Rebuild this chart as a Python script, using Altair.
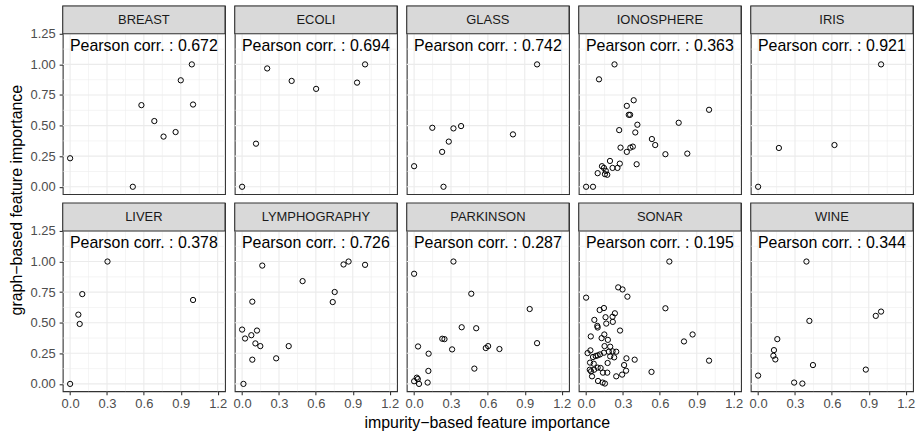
import altair as alt
import pandas as pd

# ---------------- data ----------------
datasets = ["BREAST", "ECOLI", "GLASS", "IONOSPHERE", "IRIS",
            "LIVER", "LYMPHOGRAPHY", "PARKINSON", "SONAR", "WINE"]
pearson = ["0.672", "0.694", "0.742", "0.363", "0.921",
           "0.378", "0.726", "0.287", "0.195", "0.344"]

breast_x = [0.0, 0.51, 0.58, 0.685, 0.76, 0.858, 0.90, 0.99, 1.0]
breast_y = [0.233, 0.0, 0.667, 0.537, 0.41, 0.447, 0.87, 1.0, 0.672]

ecoli_x = [0.0, 0.113, 0.204, 0.403, 0.602, 0.935, 1.0]
ecoli_y = [0.0, 0.352, 0.967, 0.865, 0.80, 0.851, 1.0]

glass_x = [0.0, 0.148, 0.228, 0.239, 0.282, 0.32, 0.382, 0.804, 1.0]
glass_y = [0.168, 0.482, 0.285, 0.0, 0.369, 0.477, 0.496, 0.428, 1.0]

iono_x = [0.0, 0.056, 0.105, 0.231, 0.094, 0.129, 0.145, 0.153, 0.172, 0.16,
          0.194, 0.215, 0.255, 0.274, 0.28, 0.269, 0.331, 0.36, 0.38, 0.411,
          0.40, 0.417, 0.347, 0.358, 0.331, 0.387, 0.535, 0.562, 0.645, 0.753,
          0.823, 1.0]
iono_y = [0.0, 0.0, 0.878, 1.0, 0.111, 0.168, 0.154, 0.103, 0.098, 0.13,
          0.211, 0.154, 0.154, 0.189, 0.32, 0.463, 0.285, 0.32, 0.328, 0.184,
          0.444, 0.507, 0.588, 0.588, 0.661, 0.707, 0.39, 0.341, 0.266, 0.523,
          0.271, 0.629]

iris_x = [0.0, 0.169, 0.621, 1.0]
iris_y = [0.0, 0.317, 0.341, 1.0]

liver_x = [0.0, 0.067, 0.078, 0.099, 0.304, 1.0]
liver_y = [0.0, 0.566, 0.49, 0.734, 1.0, 0.686]

lympho_x = [0.0, 0.011, 0.024, 0.075, 0.121, 0.108, 0.148, 0.083, 0.083, 0.164,
            0.277, 0.379, 0.492, 0.737, 0.753, 0.825, 0.866, 1.0]
lympho_y = [0.444, 0.0, 0.371, 0.398, 0.436, 0.331, 0.309, 0.672, 0.198, 0.967,
            0.209, 0.309, 0.84, 0.669, 0.751, 0.976, 1.0, 0.973]

parkinson_x = [0.0, 0.32, 0.465, 0.94, 0.387, 0.505, 0.229, 0.247, 0.032, 0.309,
               0.118, 0.583, 0.602, 0.694, 1.0, 0.49, 0.116, 0.022, 0.03, 0.0,
               0.04, 0.11]
parkinson_y = [0.9, 1.0, 0.737, 0.612, 0.463, 0.455, 0.369, 0.366, 0.306, 0.282,
               0.247, 0.293, 0.309, 0.285, 0.333, 0.125, 0.106, 0.051, 0.04, 0.022,
               0.0, 0.011]

sonar_x = [0.0, 0.677, 0.261, 0.296, 0.336, 0.645, 0.234, 0.215, 0.145, 0.11,
           0.067, 0.091, 0.094, 0.158, 0.164, 0.217, 0.276, 0.038, 0.126, 0.148,
           0.177, 0.15, 0.196, 0.866, 0.796, 0.012, 0.035, 0.056, 0.078, 0.094,
           0.113, 0.145, 0.185, 0.215, 0.245, 0.196, 0.228, 0.175, 0.032, 0.062,
           0.03, 0.04, 0.048, 0.065, 0.094, 0.118, 0.328, 0.395, 0.309, 0.325,
           0.293, 0.245, 0.137, 0.172, 0.097, 0.134, 0.153, 0.532, 1.0]
sonar_y = [0.705, 1.0, 0.789, 0.772, 0.713, 0.618, 0.577, 0.549, 0.62, 0.604,
           0.523, 0.474, 0.461, 0.545, 0.493, 0.507, 0.436, 0.388, 0.374, 0.404,
           0.36, 0.309, 0.304, 0.404, 0.347, 0.252, 0.274, 0.22, 0.228, 0.233,
           0.241, 0.255, 0.263, 0.266, 0.263, 0.225, 0.217, 0.171, 0.174, 0.165,
           0.116, 0.103, 0.062, 0.116, 0.133, 0.13, 0.209, 0.198, 0.154, 0.108,
           0.076, 0.062, 0.092, 0.092, 0.024, 0.011, 0.003, 0.098, 0.19]

wine_x = [0.0, 0.393, 0.293, 0.36, 0.446, 0.417, 0.876, 0.957, 1.0, 0.156,
          0.129, 0.124, 0.14]
wine_y = [0.068, 1.0, 0.011, 0.003, 0.154, 0.515, 0.117, 0.556, 0.591, 0.366,
          0.276, 0.23, 0.2]

series_x = [breast_x, ecoli_x, glass_x, iono_x, iris_x,
            liver_x, lympho_x, parkinson_x, sonar_x, wine_x]
series_y = [breast_y, ecoli_y, glass_y, iono_y, iris_y,
            liver_y, lympho_y, parkinson_y, sonar_y, wine_y]

x_ticks = [0.0, 0.3, 0.6, 0.9, 1.2]
x_minor = [0.15, 0.45, 0.75, 1.05]
y_ticks = [0.0, 0.25, 0.5, 0.75, 1.0, 1.25]
y_minor = [0.125, 0.375, 0.625, 0.875, 1.125]
annot_x = [0.6]
annot_y = [1.15]

# ---------------- layout ----------------
W = 163
STRIP = 28
PANEL_H = 161
H = STRIP + PANEL_H
X_LO, X_HI = -0.06, 1.26
Y_LO, Y_TOP = -0.06, 1.25
Y_HI = Y_TOP + STRIP * (Y_TOP - Y_LO) / PANEL_H

FONT = "Liberation Sans"
GRID = "#EBEBEB"
DARK = "#333333"

xscale = alt.Scale(domain=[X_LO, X_HI], nice=False, zero=False)
yscale = alt.Scale(domain=[Y_LO, Y_HI], nice=False, zero=False)


def x_axis(show):
    if not show:
        return None
    return alt.Axis(values=x_ticks, format=".1f", title=None, grid=False,
                    domain=False, labelFont=FONT, labelFontSize=13,
                    labelColor="#4D4D4D", tickColor=DARK, tickSize=3.6,
                    tickWidth=1.1, labelPadding=3, labelFlush=False,
                    labelOverlap=False)


def y_axis(show):
    if not show:
        return None
    return alt.Axis(values=y_ticks, format=".2f", title=None, grid=False,
                    domain=False, labelFont=FONT, labelFontSize=13,
                    labelColor="#4D4D4D", tickColor=DARK, tickSize=3.6,
                    tickWidth=1.1, labelPadding=4, labelOverlap=False)


def panel(i, show_x, show_y):
    name = datasets[i]
    xa = x_axis(show_x)
    ya = y_axis(show_y)
    pts = pd.DataFrame({"x": series_x[i], "y": series_y[i]})

    gy_major = alt.Chart(pd.DataFrame({"v": y_ticks})).mark_rule(
        color=GRID, strokeWidth=1.1).encode(
        y=alt.Y("v:Q", scale=yscale, axis=ya), x=alt.value(0), x2=alt.value(W))
    gy_minor = alt.Chart(pd.DataFrame({"v": y_minor})).mark_rule(
        color=GRID, strokeWidth=0.55).encode(
        y=alt.Y("v:Q", scale=yscale, axis=ya), x=alt.value(0), x2=alt.value(W))
    gx_major = alt.Chart(pd.DataFrame({"v": x_ticks})).mark_rule(
        color=GRID, strokeWidth=1.1).encode(
        x=alt.X("v:Q", scale=xscale, axis=xa), y=alt.value(STRIP), y2=alt.value(H))
    gx_minor = alt.Chart(pd.DataFrame({"v": x_minor})).mark_rule(
        color=GRID, strokeWidth=0.55).encode(
        x=alt.X("v:Q", scale=xscale, axis=xa), y=alt.value(STRIP), y2=alt.value(H))

    strip_df = pd.DataFrame({"label": [name]})
    strip_bg = alt.Chart(strip_df).mark_rect(
        fill="#D9D9D9", stroke=DARK, strokeWidth=1.1).encode(
        x=alt.value(0), x2=alt.value(W), y=alt.value(0), y2=alt.value(STRIP))
    strip_tx = alt.Chart(strip_df).mark_text(
        font=FONT, fontSize=13, color="#1A1A1A", baseline="middle",
        align="center").encode(
        x=alt.value(W / 2), y=alt.value(STRIP / 2 + 0.5), text="label:N")

    ann_df = pd.DataFrame({"tx": annot_x, "ty": annot_y,
                           "t": ["Pearson corr. : " + pearson[i]]})
    ann = alt.Chart(ann_df).mark_text(
        font=FONT, fontSize=16, color="black", baseline="middle",
        align="center").encode(
        x=alt.X("tx:Q", scale=xscale, axis=xa),
        y=alt.Y("ty:Q", scale=yscale, axis=ya), text="t:N")

    points = alt.Chart(pts).mark_point(
        shape="circle", filled=False, color="black", size=28,
        strokeWidth=1.0, opacity=1).encode(
        x=alt.X("x:Q", scale=xscale, axis=xa),
        y=alt.Y("y:Q", scale=yscale, axis=ya))

    return alt.layer(gy_minor, gx_minor, gy_major, gx_major, strip_bg,
                     strip_tx, ann, points).properties(width=W, height=H)


panels = [panel(i, i >= 5, i % 5 == 0) for i in range(10)]

grid = alt.concat(*panels, columns=5, bounds="flush",
                  spacing={"row": 9, "column": 9.75}).properties(
    title=alt.TitleParams("graph−based feature importance", orient="left",
                          anchor="middle", font=FONT, fontSize=16,
                          fontWeight="normal", color="black", offset=4,
                          dx=8))

chart = alt.vconcat(grid).properties(
    title=alt.TitleParams("impurity−based feature importance", orient="bottom",
                          anchor="middle", font=FONT, fontSize=16,
                          fontWeight="normal", color="black", offset=4,
                          dx=25),
    padding={"left": 9, "top": 3, "right": 4, "bottom": 4},
    background="white",
).configure_view(stroke=DARK, strokeWidth=1.1).configure_concat(spacing=0)

chart.save("out.html", embed_options={"renderer": "svg", "actions": False})
